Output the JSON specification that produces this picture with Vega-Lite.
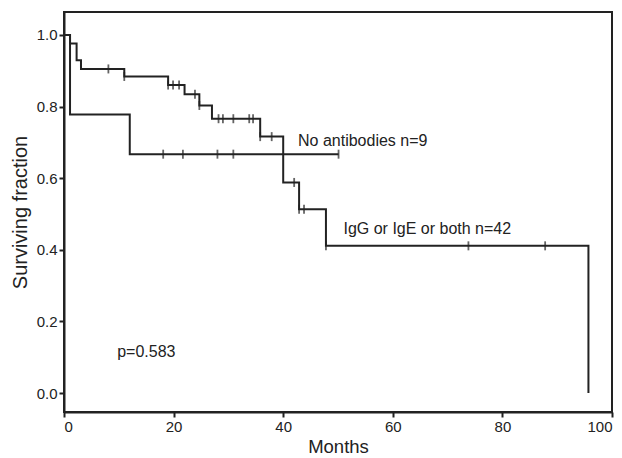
{
  "$schema": "https://vega.github.io/schema/vega-lite/v6.json",
  "width": 548,
  "height": 400,
  "autosize": "none",
  "padding": {"left": 64, "top": 12, "right": 10, "bottom": 46},
  "background": "white",
  "config": {
    "view": {"stroke": "#222", "strokeWidth": 2},
    "font": "Liberation Sans",
    "axis": {
      "domainColor": "#222", "domainWidth": 2,
      "tickColor": "#222", "tickWidth": 2, "tickSize": 5,
      "labelFontSize": 15, "labelColor": "#222", "labelPadding": 2,
      "titleFontSize": 18, "titleFontWeight": "normal", "titleColor": "#222",
      "grid": false
    }
  },
  "datasets": {
    "curves": [
      {"group": "IgG", "month": 0, "surv": 1.0},
      {"group": "IgG", "month": 1.1, "surv": 0.976},
      {"group": "IgG", "month": 2.3, "surv": 0.929},
      {"group": "IgG", "month": 3.1, "surv": 0.905},
      {"group": "IgG", "month": 11.0, "surv": 0.884},
      {"group": "IgG", "month": 19.0, "surv": 0.860},
      {"group": "IgG", "month": 22.0, "surv": 0.834},
      {"group": "IgG", "month": 24.7, "surv": 0.803},
      {"group": "IgG", "month": 27.0, "surv": 0.766},
      {"group": "IgG", "month": 35.8, "surv": 0.716},
      {"group": "IgG", "month": 40.0, "surv": 0.588},
      {"group": "IgG", "month": 42.9, "surv": 0.513},
      {"group": "IgG", "month": 47.8, "surv": 0.411},
      {"group": "IgG", "month": 95.7, "surv": 0.0},
      {"group": "None", "month": 0, "surv": 1.0},
      {"group": "None", "month": 1.1, "surv": 0.778},
      {"group": "None", "month": 12.0, "surv": 0.667},
      {"group": "None", "month": 50.1, "surv": 0.667}
    ],
    "censors": [
      {"group": "IgG", "month": 8.1, "surv": 0.905},
      {"group": "IgG", "month": 11.0, "surv": 0.884},
      {"group": "IgG", "month": 19.0, "surv": 0.860},
      {"group": "IgG", "month": 19.9, "surv": 0.860},
      {"group": "IgG", "month": 21.0, "surv": 0.860},
      {"group": "IgG", "month": 23.9, "surv": 0.834},
      {"group": "IgG", "month": 24.7, "surv": 0.803},
      {"group": "IgG", "month": 28.2, "surv": 0.766},
      {"group": "IgG", "month": 29.0, "surv": 0.766},
      {"group": "IgG", "month": 30.9, "surv": 0.766},
      {"group": "IgG", "month": 33.8, "surv": 0.766},
      {"group": "IgG", "month": 34.5, "surv": 0.766},
      {"group": "IgG", "month": 35.8, "surv": 0.716},
      {"group": "IgG", "month": 37.9, "surv": 0.716},
      {"group": "IgG", "month": 42.0, "surv": 0.588},
      {"group": "IgG", "month": 42.9, "surv": 0.513},
      {"group": "IgG", "month": 43.8, "surv": 0.513},
      {"group": "IgG", "month": 47.8, "surv": 0.411},
      {"group": "IgG", "month": 73.8, "surv": 0.411},
      {"group": "IgG", "month": 87.8, "surv": 0.411},
      {"group": "None", "month": 18.1, "surv": 0.667},
      {"group": "None", "month": 21.7, "surv": 0.667},
      {"group": "None", "month": 28.0, "surv": 0.667},
      {"group": "None", "month": 30.9, "surv": 0.667},
      {"group": "None", "month": 50.1, "surv": 0.667}
    ],
    "labels": [
      {"month": 42.7, "surv": 0.691, "text": "No antibodies n=9"},
      {"month": 51.0, "surv": 0.444, "text": "IgG or IgE or both n=42"},
      {"month": 9.7, "surv": 0.1, "text": "p=0.583"}
    ]
  },
  "layer": [
    {
      "data": {"name": "curves"},
      "mark": {"type": "line", "interpolate": "step-after", "color": "#222", "strokeWidth": 2},
      "encoding": {
        "x": {
          "field": "month", "type": "quantitative",
          "scale": {"domain": [0, 100], "nice": false},
          "axis": {"title": "Months", "values": [0, 20, 40, 60, 80, 100], "titlePadding": 3, "titleFontSize": 18.5}
        },
        "y": {
          "field": "surv", "type": "quantitative",
          "scale": {"domain": [-0.053, 1.064], "nice": false, "zero": false},
          "axis": {"title": "Surviving fraction", "values": [0, 0.2, 0.4, 0.6, 0.8, 1.0], "format": ".1f", "titlePadding": 6, "titleFontSize": 20}
        },
        "detail": {"field": "group"}
      }
    },
    {
      "data": {"name": "censors"},
      "mark": {"type": "tick", "orient": "vertical", "size": 9, "thickness": 1.8, "color": "#222"},
      "encoding": {
        "x": {"field": "month", "type": "quantitative"},
        "y": {"field": "surv", "type": "quantitative"}
      }
    },
    {
      "data": {"name": "labels"},
      "mark": {"type": "text", "align": "left", "baseline": "alphabetic", "fontSize": 16, "color": "#222"},
      "encoding": {
        "x": {"field": "month", "type": "quantitative"},
        "y": {"field": "surv", "type": "quantitative"},
        "text": {"field": "text"}
      }
    }
  ]
}
